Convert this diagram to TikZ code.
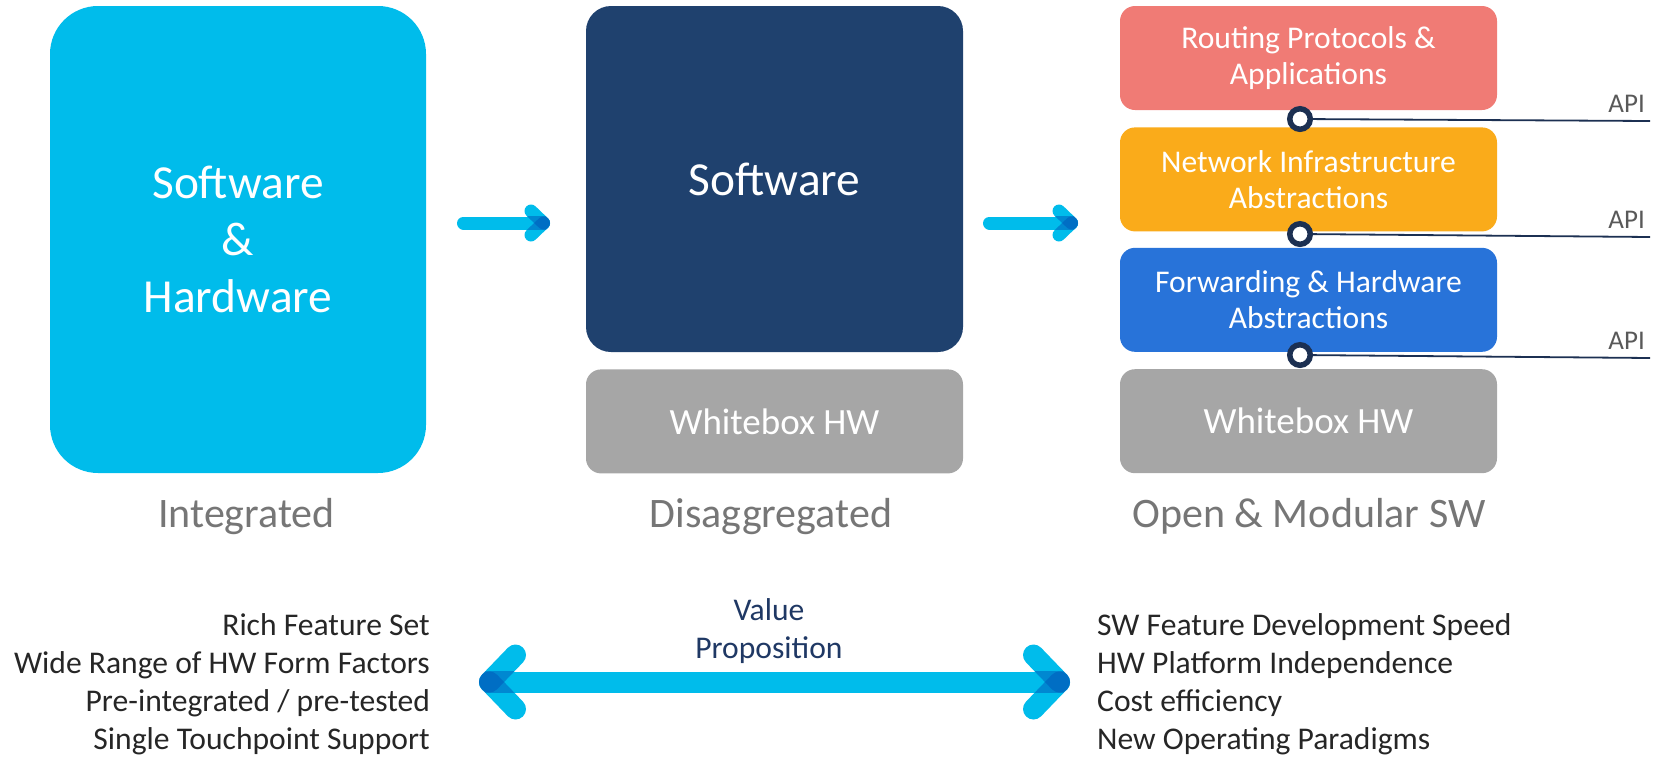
\documentclass[tikz,border=0pt]{standalone}
\usepackage{fontspec}
\setmainfont{Carlito}
\usetikzlibrary{calc,positioning}

\definecolor{cyanbox}{RGB}{0,188,235}
\definecolor{navybox}{RGB}{31,65,110}
\definecolor{hwgray}{RGB}{166,166,166}
\definecolor{routred}{RGB}{240,123,117}
\definecolor{netorange}{RGB}{250,171,26}
\definecolor{fwdblue}{RGB}{40,115,217}
\definecolor{capgray}{RGB}{118,118,118}
\definecolor{bodygray}{RGB}{38,38,38}
\definecolor{valnavy}{RGB}{31,56,100}
\definecolor{apinavy}{RGB}{28,48,82}
\definecolor{apigray}{RGB}{89,89,89}
\definecolor{tipblue}{RGB}{0,85,185}

% head of a flow arrow: tip, line width, arm dx, arm dy
\newcommand{\flowhead}[4]{%
  \draw[cyanbox, line width=#2pt, line cap=round, line join=round]
    ($(#1)+(#3,-#4)$) -- (#1) -- ($(#1)+(#3,#4)$);
  \begin{scope}
    \clip ($(#1)+(-40,-#2/2)$) rectangle ($(#1)+(40,#2/2)$);
    \draw[tipblue, opacity=0.5, line width=#2pt, line cap=round] ($(#1)+(#3,-#4)$) -- (#1);
    \draw[tipblue, opacity=0.5, line width=#2pt, line cap=round] ($(#1)+(#3,#4)$) -- (#1);
  \end{scope}}

\begin{document}
\begin{tikzpicture}[
    x=1pt, y=-1pt,
    block/.style={rectangle, rounded corners=15pt, minimum width=377pt, minimum height=104pt,
      inner sep=0pt, text=white, align=center, font=\fontsize{31.6}{36}\selectfont},
    bigblock/.style={block, font=\fontsize{47.4}{57}\selectfont},
    hwblock/.style={block, fill=hwgray, font=\fontsize{37}{44}\selectfont},
    colcap/.style={text=capgray, font=\fontsize{42}{50}\selectfont, anchor=base, inner sep=0pt},
    pro/.style={text=bodygray, font=\fontsize{31.6}{38}\selectfont, inner sep=0pt},
    flow/.style={cyanbox, line cap=round},
    apidot/.style={circle, draw=apinavy, line width=5.5pt, fill=white, minimum size=20.5pt, inner sep=0pt},
    apiline/.style={apinavy, line width=1.8pt},
    apilabel/.style={text=apigray, font=\fontsize{27}{32}\selectfont, anchor=base east, inner sep=0pt}
]
    \useasboundingbox (0,0) rectangle (1658,756);

    % three columns
    \node[bigblock, fill=cyanbox, minimum width=376pt, minimum height=467pt, rounded corners=48pt]
        (integ) at (238,239.5) {Software\\\&\\Hardware};
    \node[bigblock, fill=navybox, minimum height=346pt, rounded corners=25pt]
        (swbox) at (774.5,179) {Software};
    \node[hwblock, below=17pt of swbox] (hwmid) {Whitebox HW};

    \node[block, fill=routred] (rout) at (1308.5,58) {Routing Protocols \&\\Applications};
    \node[block, fill=netorange, below=17pt of rout] (netw) {Network Infrastructure\\Abstractions};
    \node[block, fill=fwdblue, below=16pt of netw] (fwd) {Forwarding \& Hardware\\Abstractions};
    \node[hwblock, below=17pt of fwd] (hwright) {Whitebox HW};

    \node[colcap] (capint) at (246.5,527) {Integrated};
    \node[colcap] (capdis) at (771,527) {Disaggregated};
    \node[colcap] (capopen) at (1309,527) {Open \& Modular SW};

    % arrows between columns
    \coordinate (a1tail) at (463.5,223);
    \coordinate (a1tip) at (543.5,223);
    \coordinate (a2tail) at (989.5,223);
    \coordinate (a2tip) at (1071.5,223);
    \draw[flow, line width=13pt] (a1tail) -- (a1tip);
    \flowhead{a1tip}{13}{-12.5}{12}
    \draw[flow, line width=13pt] (a2tail) -- (a2tip);
    \flowhead{a2tip}{13}{-12.5}{12}

    % API connectors
    \foreach \y/\e/\n in {119/121/1, 234/237/2, 355/358/3} {
        \node[apidot] (api\n) at (1300,\y) {};
        \coordinate (apiend\n) at (1650,\e);
        \draw[apiline] (api\n) -- (apiend\n);
        \node[apilabel] (apil\n) at (1645,\e-9) {API};
    }

    % value proposition
    \coordinate (vleft) at (489.5,682);
    \coordinate (vright) at (1059.5,682);
    \draw[flow, line width=21pt] (vleft) -- (vright);
    \flowhead{vleft}{21}{26}{27}
    \flowhead{vright}{21}{-26}{27}
    \node[pro, text=valnavy, anchor=base] (val1) at (769,620) {Value};
    \node[pro, text=valnavy, anchor=base] (val2) at (769,658) {Proposition};

    \foreach \t [count=\i] in {Rich Feature Set, Wide Range of HW Form Factors,
        Pre-integrated / pre-tested, Single Touchpoint Support}
        \node[pro, anchor=base east] (pl\i) at (430,{635+38.3*(\i-1)}) {\t};
    \foreach \t [count=\i] in {SW Feature Development Speed, HW Platform Independence,
        Cost efficiency, New Operating Paradigms}
        \node[pro, anchor=base west] (pr\i) at (1097,{635+38.3*(\i-1)}) {\t};
\end{tikzpicture}
\end{document}
